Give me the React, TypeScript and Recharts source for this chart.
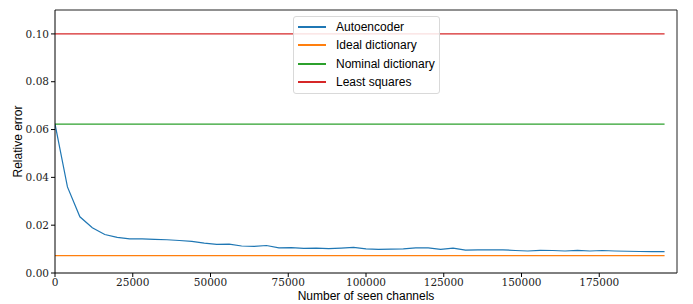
import { Line, LineChart, XAxis, YAxis } from "recharts";

const seen = [
  0, 4000, 8000, 12000, 16000, 20000, 24000, 28000, 32000, 36000, 40000, 44000, 48000, 52000,
  56000, 60000, 64000, 68000, 72000, 76000, 80000, 84000, 88000, 92000, 96000, 100000, 104000,
  108000, 112000, 116000, 120000, 124000, 128000, 132000, 136000, 140000, 144000, 148000, 152000,
  156000, 160000, 164000, 168000, 172000, 176000, 180000, 184000, 188000, 192000, 196000,
];
const autoencoder = [
  0.0624, 0.036, 0.0235, 0.0189, 0.0161, 0.0149, 0.0143, 0.0143, 0.0141, 0.0139, 0.0136, 0.0132,
  0.0125, 0.012, 0.0121, 0.0113, 0.0111, 0.0115, 0.0105, 0.0106, 0.0103, 0.0104, 0.0102, 0.0104,
  0.0107, 0.0101, 0.0099, 0.01, 0.0101, 0.0105, 0.0105, 0.0099, 0.0104, 0.0096, 0.0097, 0.0097,
  0.0097, 0.0094, 0.0092, 0.0095, 0.0094, 0.0092, 0.0095, 0.0092, 0.0094, 0.0092, 0.0091, 0.009,
  0.0089, 0.0089,
];
const idealDictionary = 0.0073;
const nominalDictionary = 0.0623;
const leastSquares = 0.1;

const xTicks = [0, 25000, 50000, 75000, 100000, 125000, 150000, 175000];
const yTicks = [0, 0.02, 0.04, 0.06, 0.08, 0.1];

const series = [
  { key: "auto", name: "Autoencoder", color: "#1f77b4" },
  { key: "ideal", name: "Ideal dictionary", color: "#ff7f0e" },
  { key: "nominal", name: "Nominal dictionary", color: "#2ca02c" },
  { key: "ls", name: "Least squares", color: "#d62728" },
];

const data = seen.map((s, i) => ({
  seen: s,
  auto: autoencoder[i],
  ideal: idealDictionary,
  nominal: nominalDictionary,
  ls: leastSquares,
}));

const serif = "'DejaVu Serif', serif";
const sans = "'Liberation Sans', sans-serif";

// legend row offsets inside the box (px)
const rowTops = [10, 28, 47, 65];

function LegendBox() {
  return (
    <div
      style={{
        position: "absolute",
        left: 293,
        top: 16,
        width: 147,
        height: 78,
        border: "1px solid #d9d9d9",
        borderRadius: 3,
        background: "rgba(255,255,255,0.85)",
        fontFamily: sans,
        fontSize: 12,
        color: "#000",
        boxSizing: "border-box",
        whiteSpace: "nowrap",
      }}
    >
      {series.map((s, i) => (
        <div key={s.key}>
          <div
            style={{ position: "absolute", left: 4, top: rowTops[i] - 1, width: 28, height: 1.5, background: s.color }}
          />
          <span style={{ position: "absolute", left: 42, top: rowTops[i] - 8, lineHeight: "16px" }}>{s.name}</span>
        </div>
      ))}
    </div>
  );
}

export default function App() {
  return (
    <div style={{ position: "absolute", left: 0, top: 0, width: 693, height: 304, background: "#fff" }}>
      <LineChart
        width={693}
        height={304}
        data={data}
        margin={{ top: 9, right: 15, left: 0, bottom: 0 }}
        style={{ fontFamily: serif }}
      >
        <XAxis
          xAxisId="b"
          dataKey="seen"
          type="number"
          domain={[0, 200000]}
          ticks={xTicks}
          interval={0}
          height={31}
          tickSize={4}
          tickMargin={2}
          stroke="#000"
          tick={{ fill: "#222", fontSize: 10.5, fontFamily: serif }}
          label={{ value: "Number of seen channels", position: "insideBottom", offset: 4, fill: "#000", fontSize: 12, fontFamily: sans }}
          allowDataOverflow
        />
        <XAxis xAxisId="t" orientation="top" dataKey="seen" type="number" domain={[0, 200000]} height={1} tick={false} tickLine={false} stroke="#222" />
        <YAxis
          yAxisId="l"
          domain={[0, 0.11]}
          ticks={yTicks}
          interval={0}
          width={55}
          tickSize={4}
          tickMargin={2}
          stroke="#000"
          tickFormatter={(v: number) => v.toFixed(2)}
          tick={{ fill: "#222", fontSize: 10.5, fontFamily: serif }}
          label={{ value: "Relative error", angle: -90, position: "insideLeft", offset: 18, fill: "#000", fontSize: 12, fontFamily: sans, style: { textAnchor: "middle" } }}
          allowDataOverflow
        />
        <YAxis yAxisId="r" orientation="right" domain={[0, 0.11]} width={1} tick={false} tickLine={false} stroke="#222" />
        {series.map((s) => (
          <Line
            key={s.key}
            xAxisId="b"
            yAxisId="l"
            type="linear"
            dataKey={s.key}
            name={s.name}
            stroke={s.color}
            strokeWidth={1.2}
            dot={false}
            isAnimationActive={false}
          />
        ))}
      </LineChart>
      <LegendBox />
    </div>
  );
}
